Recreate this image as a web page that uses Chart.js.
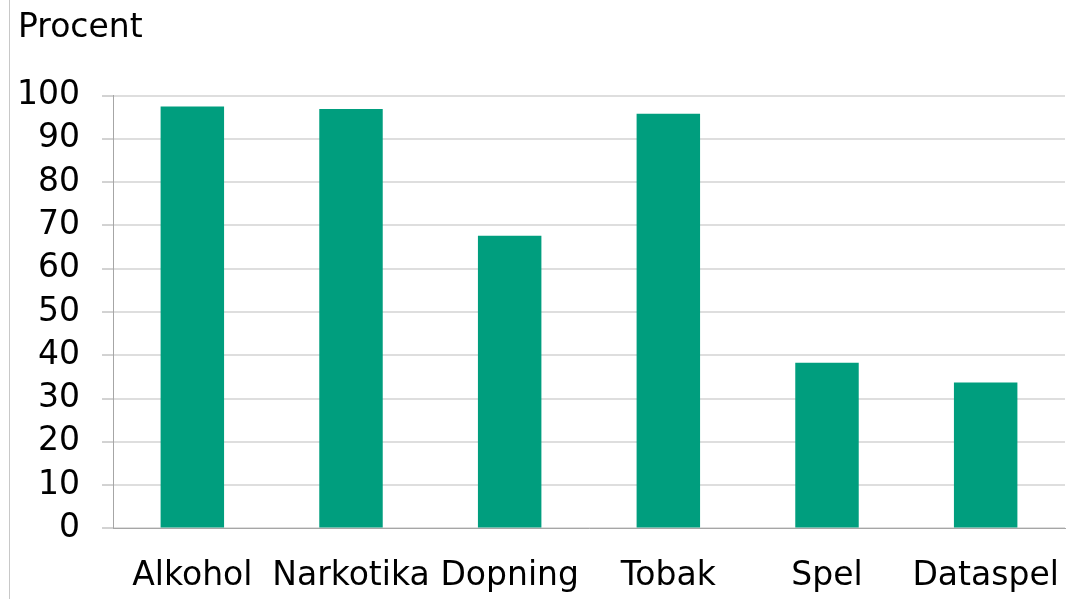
<!DOCTYPE html>
<html>
<head>
<meta charset="utf-8">
<script src="https://cdn.jsdelivr.net/npm/chart.js@4/dist/chart.umd.min.js"></script>
<style>
  html, body { margin: 0; padding: 0; background: #fff; }
  #wrap { position: relative; width: 1066px; height: 599px; }
  #frame { position: absolute; left: 9px; top: 0; width: 1px; height: 599px; background: #c8c8c8; }
  canvas { position: absolute; left: 0; top: 0; }
</style>
</head>
<body>
<div id="wrap">
  <canvas id="c" width="1066" height="599"></canvas>
  <div id="frame"></div>
</div>
<script>
const categories = ["Alkohol", "Narkotika", "Dopning", "Tobak", "Spel", "Dataspel"];
const values = [97.5, 96.9, 67.6, 95.8, 38.3, 33.7];
const yTicks = [0, 10, 20, 30, 40, 50, 60, 70, 80, 90, 100];
const yTitle = "Procent";

const FONT = "'DejaVu Sans', sans-serif";

new Chart(document.getElementById('c'), {
  type: 'bar',
  data: {
    labels: categories,
    datasets: [{
      data: values,
      backgroundColor: '#009e7e',
      borderWidth: 0,
      categoryPercentage: 1.0,
      barPercentage: 0.4
    }]
  },
  options: {
    responsive: false,
    animation: false,
    layout: { padding: { left: 18, right: 1, top: 0, bottom: 1 } },
    plugins: {
      legend: { display: false },
      tooltip: { enabled: false },
      title: {
        display: true,
        text: yTitle,
        align: 'start',
        color: '#000',
        font: { family: FONT, size: 33, weight: 'normal' },
        padding: { top: 9, bottom: 47 }
      }
    },
    scales: {
      x: {
        grid: {
          display: true,
          drawOnChartArea: false,
          drawTicks: true,
          tickLength: 26,
          color: 'rgba(0,0,0,0)',
          tickColor: 'rgba(0,0,0,0)'
        },
        border: { display: true, color: '#a6a6a6', width: 1 },
        ticks: {
          color: '#000',
          font: { family: FONT, size: 33 },
          padding: 2,
          maxRotation: 0,
          autoSkip: false
        }
      },
      y: {
        min: 0,
        max: 100,
        afterBuildTicks: (axis) => { axis.ticks = yTicks.map(v => ({ value: v })); },
        afterFit: (scale) => { scale.width = 95; },
        grid: {
          color: '#dedede',
          lineWidth: 2,
          tickLength: 11,
          tickColor: '#a6a6a6',
          tickWidth: 1
        },
        border: { display: true, color: '#a6a6a6', width: 1 },
        ticks: {
          color: '#000',
          font: { family: FONT, size: 33 },
          padding: 22
        }
      }
    }
  }
});
</script>
</body>
</html>
